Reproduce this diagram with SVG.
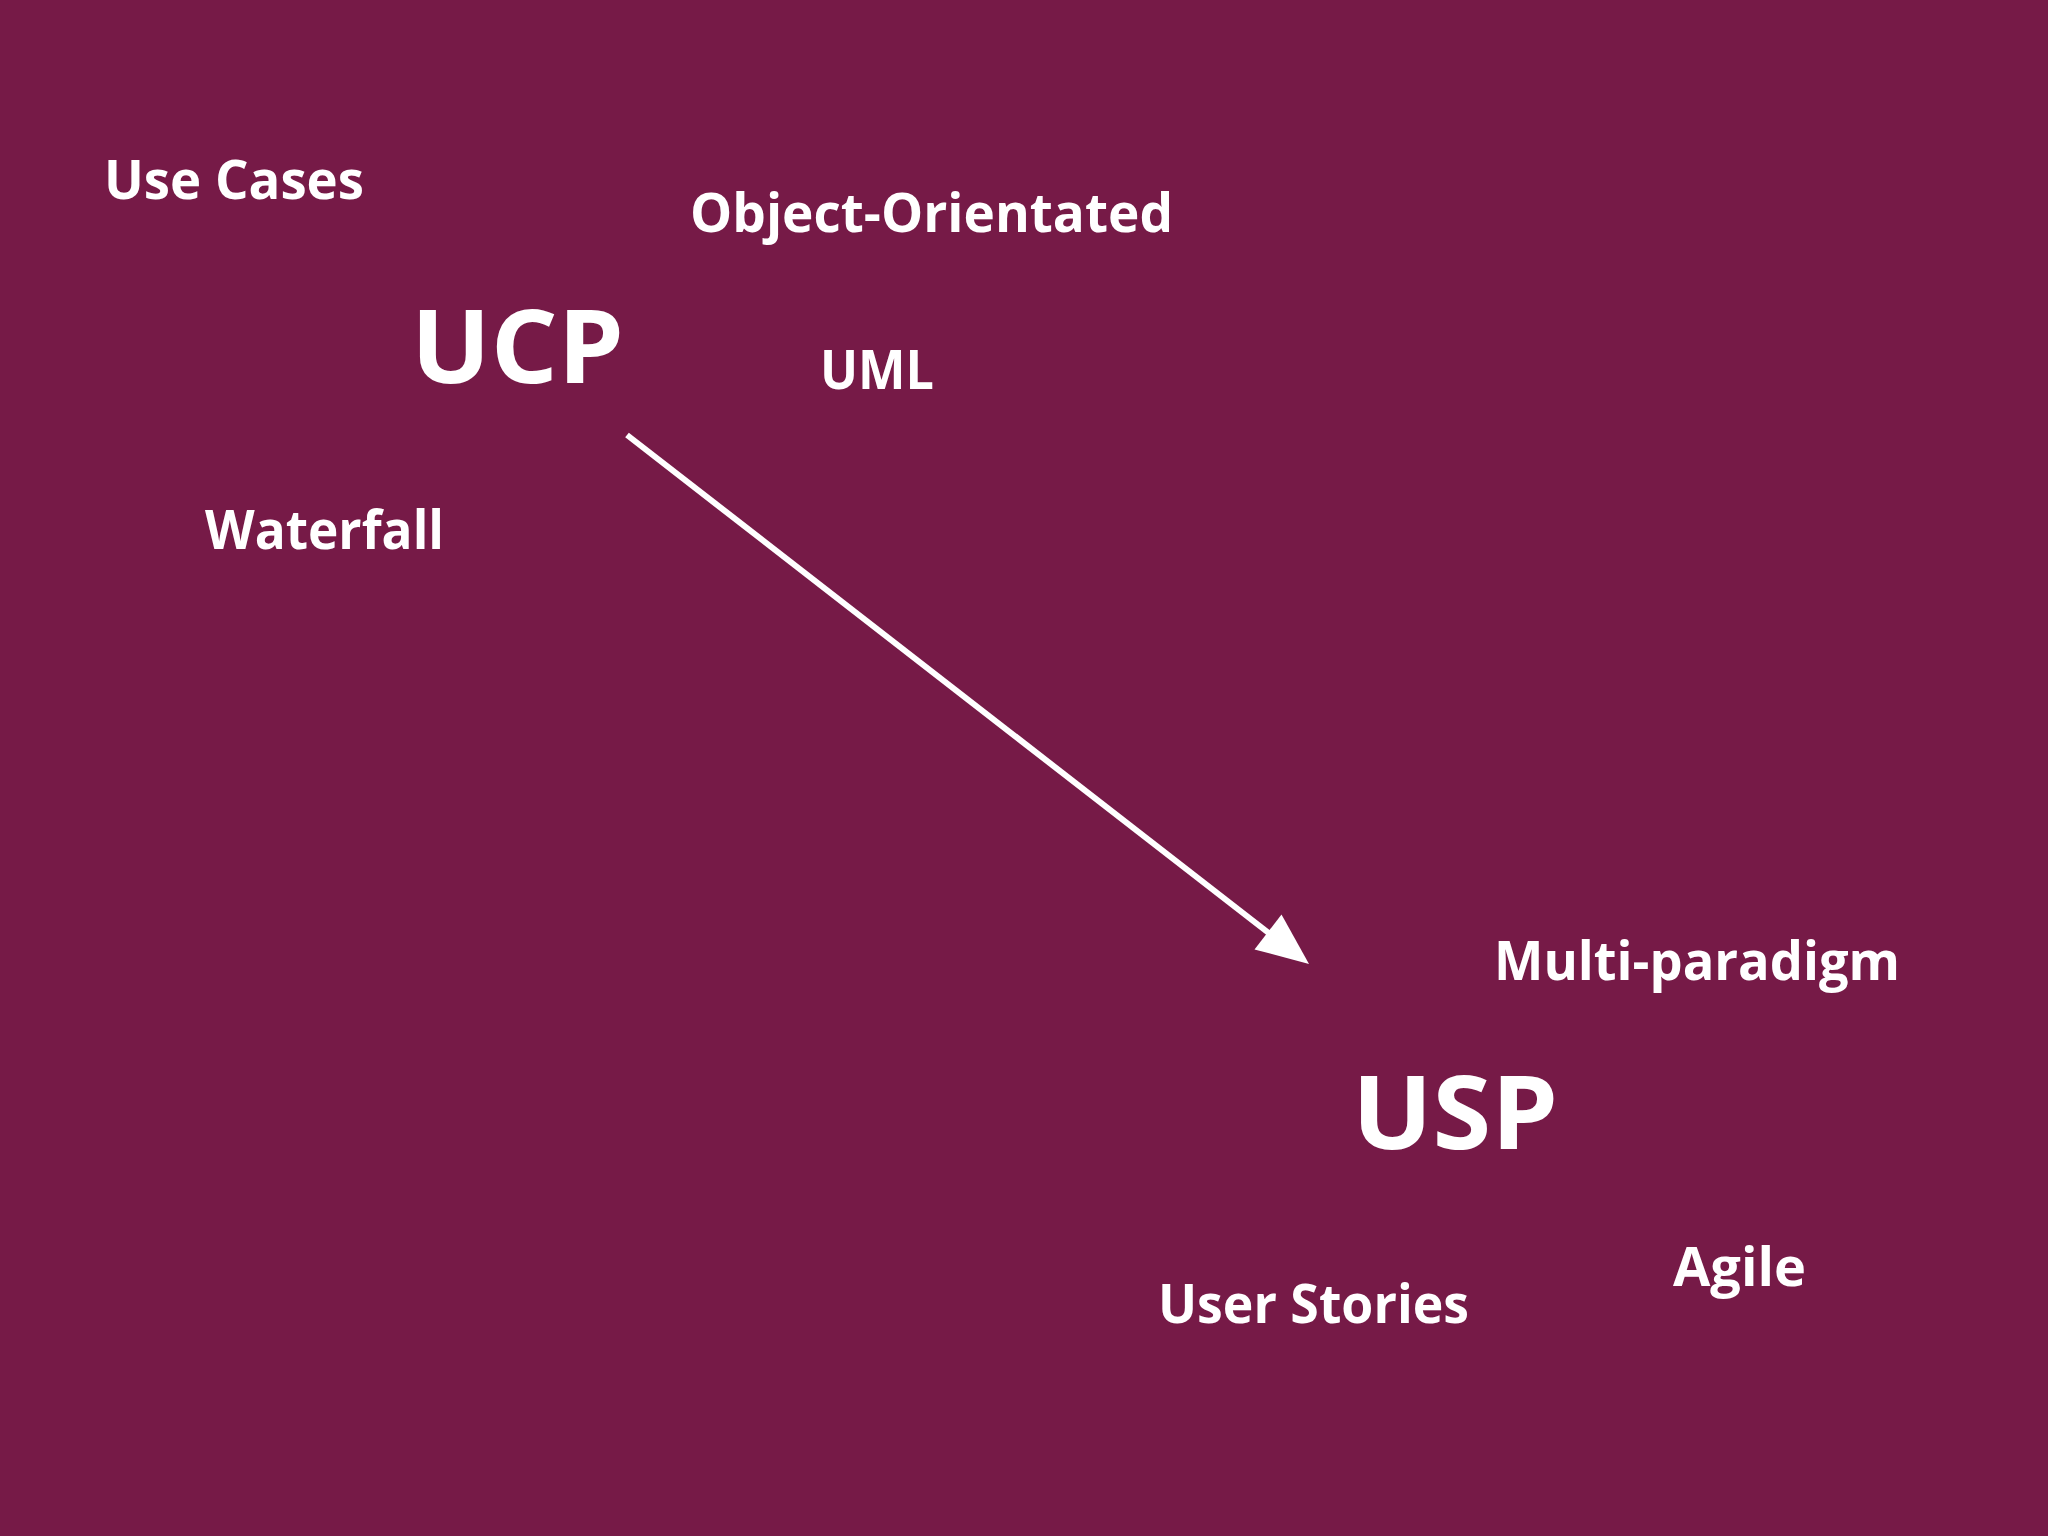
<svg xmlns="http://www.w3.org/2000/svg" width="2048" height="1536" viewBox="0 0 2048 1536">
<style>
.t{font-family:"Open Sans","Liberation Sans",sans-serif;font-weight:bold;fill:#fff}
.s{font-size:54px}
.b{font-size:102px}
</style>
<rect width="2048" height="1536" fill="#761a47"/>
<g id="use-cases"><text class="t s" x="104" y="199" textLength="260" lengthAdjust="spacingAndGlyphs">Use Cases</text></g>
<g id="object-orientated"><text class="t s" x="690" y="232" textLength="483" lengthAdjust="spacingAndGlyphs">Object-Orientated</text></g>
<g id="ucp"><text class="t b" x="411" y="383" textLength="213" lengthAdjust="spacingAndGlyphs">UCP</text></g>
<g id="uml"><text class="t s" x="820" y="389" textLength="114" lengthAdjust="spacingAndGlyphs">UML</text></g>
<g id="waterfall"><text class="t s" x="205" y="549" textLength="239" lengthAdjust="spacingAndGlyphs">Waterfall</text></g>
<g id="multi-paradigm"><text class="t s" x="1494" y="980" textLength="406" lengthAdjust="spacingAndGlyphs">Multi-paradigm</text></g>
<g id="usp"><text class="t b" x="1352" y="1149" textLength="206" lengthAdjust="spacingAndGlyphs">USP</text></g>
<g id="user-stories"><text class="t s" x="1158" y="1323" textLength="311" lengthAdjust="spacingAndGlyphs">User Stories</text></g>
<g id="agile"><text class="t s" x="1673" y="1286" textLength="133" lengthAdjust="spacingAndGlyphs">Agile</text></g>
<g id="connectors">
<line x1="627" y1="435" x2="1270" y2="934" stroke="#fff" stroke-width="6"/>
<polygon points="1309,964 1281.5,914.6 1254.5,949.4" fill="#fff"/>
</g>
</svg>
